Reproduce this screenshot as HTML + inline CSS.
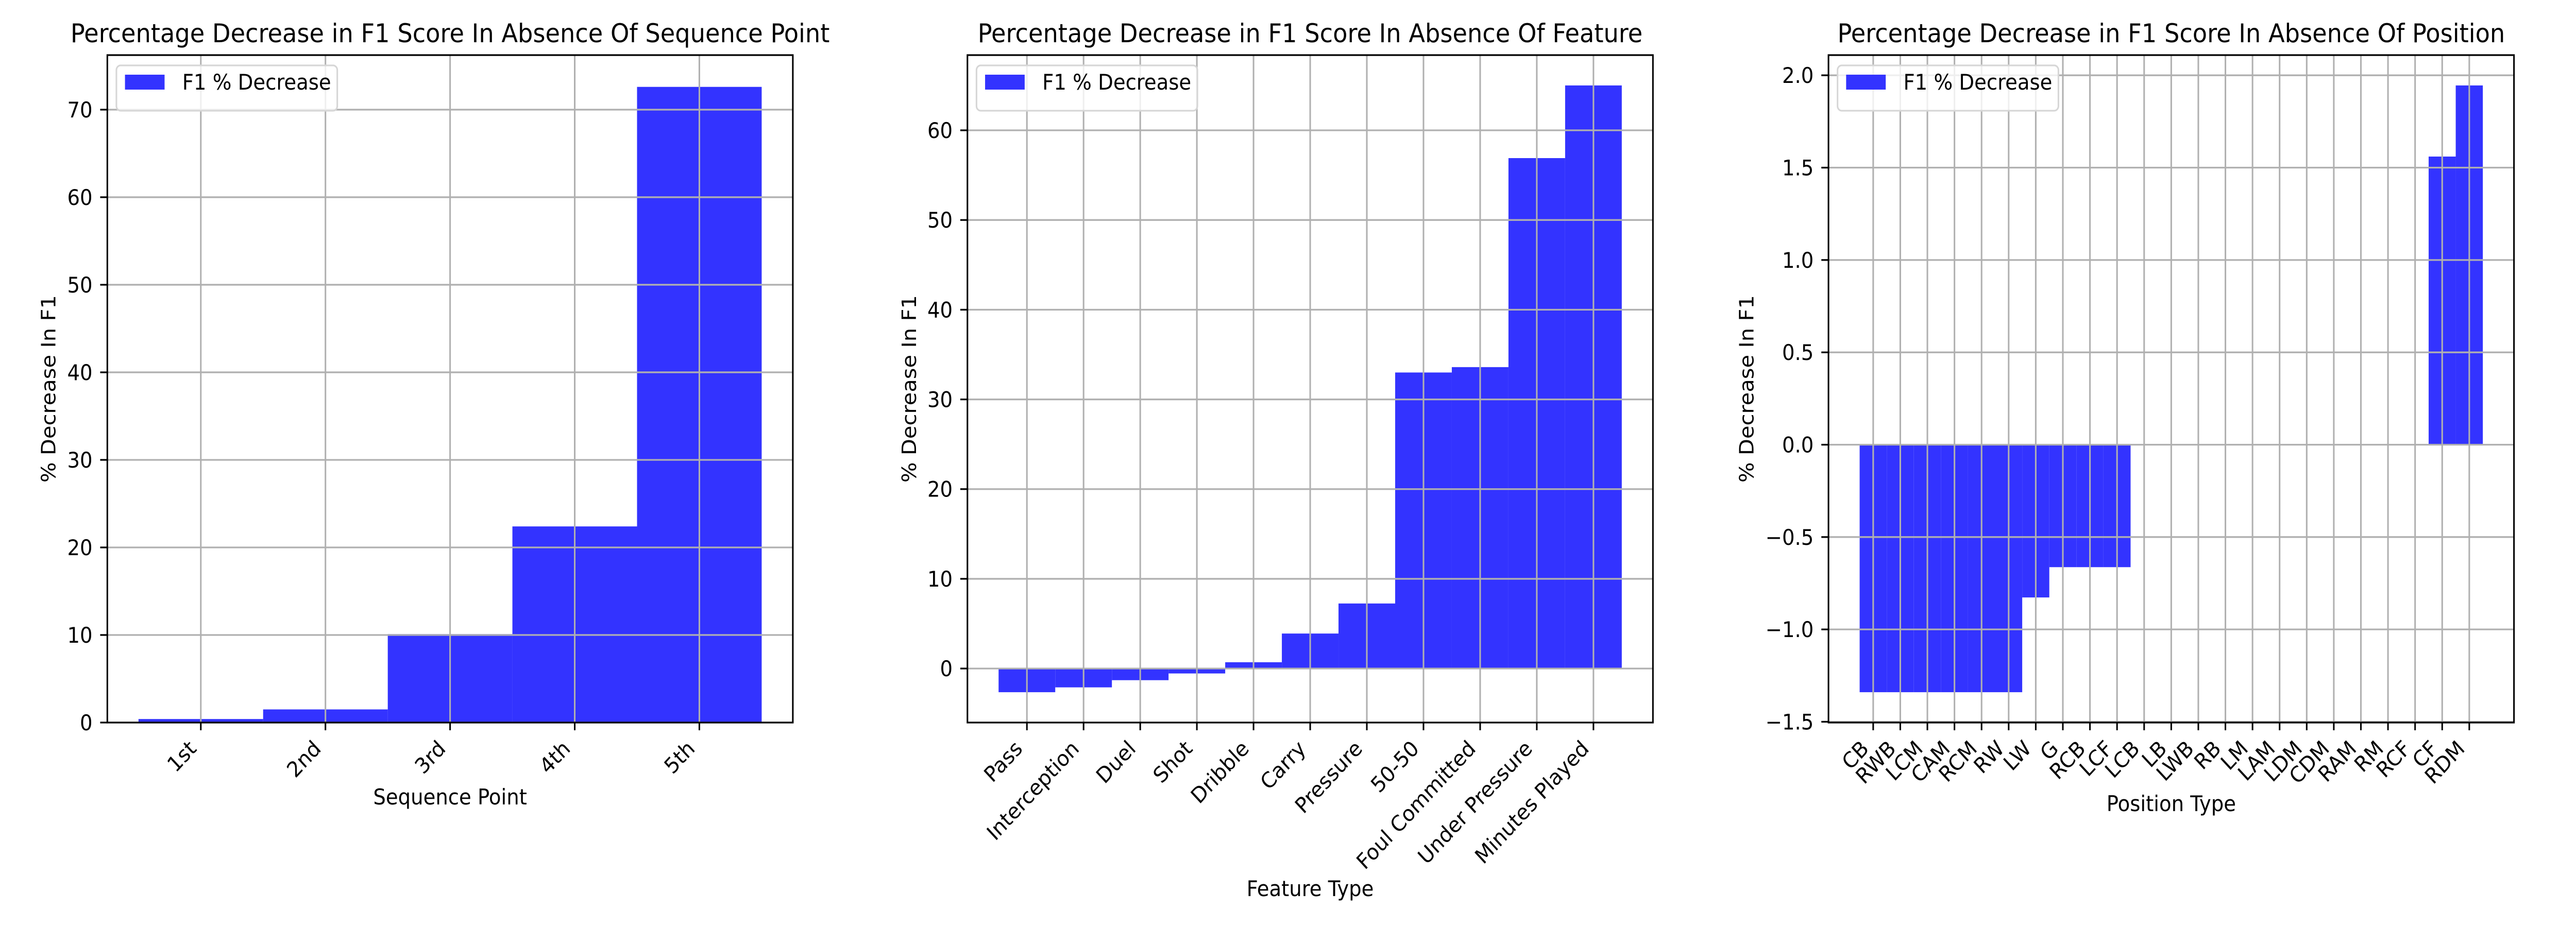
<!DOCTYPE html>
<html><head><meta charset="utf-8">
<meta name="viewport" content="width=5400, initial-scale=1">
<style>
html,body{margin:0;padding:0;background:#fff;overflow:hidden;width:100%;height:100%;}
svg{display:block;position:fixed;left:0;top:0;width:100vw;height:100vh;font-family:"DejaVu Sans","Liberation Sans",sans-serif;}
</style></head>
<body>
<svg id="fig" viewBox="0 0 5400 1800" preserveAspectRatio="none" xmlns="http://www.w3.org/2000/svg"></svg>
<script>
// ---- Panel 1 data ----
const seqCategories = ["1st","2nd","3rd","4th","5th"];
const seqValues = [0.4, 1.5, 10.1, 22.4, 72.6];
const seqTicks = [0,10,20,30,40,50,60,70];
const seqTickLabels = ["0","10","20","30","40","50","60","70"];
// ---- Panel 2 data ----
const featCategories = ["Pass","Interception","Duel","Shot","Dribble","Carry","Pressure","50-50","Foul Committed","Under Pressure","Minutes Played"];
const featValues = [-2.64, -2.1, -1.3, -0.55, 0.7, 3.9, 7.25, 33.0, 33.6, 56.9, 65.0];
const featTicks = [0,10,20,30,40,50,60];
const featTickLabels = ["0","10","20","30","40","50","60"];
// ---- Panel 3 data ----
const posCategories = ["CB","RWB","LCM","CAM","RCM","RW","LW","G","RCB","LCF","LCB","LB","LWB","RB","LM","LAM","LDM","CDM","RAM","RM","RCF","CF","RDM"];
const posValues = [-1.34,-1.34,-1.34,-1.34,-1.34,-1.34,-0.827,-0.663,-0.663,-0.663,0,0,0,0,0,0,0,0,0,0,0,1.56,1.945];
const posTicks = [-1.5,-1.0,-0.5,0.0,0.5,1.0,1.5,2.0];
const posTickLabels = ["\u22121.5","\u22121.0","\u22120.5","0.0","0.5","1.0","1.5","2.0"];

const NS = "http://www.w3.org/2000/svg";
const fig = document.getElementById("fig");
function mk(tag, attrs, parent){
  const e = document.createElementNS(NS, tag);
  for (const k in attrs) e.setAttribute(k, attrs[k]);
  (parent||fig).appendChild(e);
  return e;
}

function panel(opt){
  const L=opt.L, R=opt.L+1437, T=107, B=1403;
  const n=opt.cats.length;
  const vmin=Math.min(0,...opt.vals), vmax=Math.max(0,...opt.vals);
  const xlo=-0.5-0.05*n, xhi=n-0.5+0.05*n;
  const ylo=vmin-(vmax-vmin)*0.05*(vmin<0?1:0), yhi=vmax+(vmax-vmin)*0.05;
  const sx=v=>L+(v-xlo)/(xhi-xlo)*(R-L);
  const sy=v=>B-(v-ylo)/(yhi-ylo)*(B-T);
  const g=mk("g",{});
  
  
  opt.vals.forEach((v,i)=>{
    const y0=sy(Math.max(v,0)), y1=sy(Math.min(v,0));
    const r=mk("rect",{x:sx(i-0.5),y:y0,width:sx(i+0.5)-sx(i-0.5),height:Math.max(y1-y0,0),fill:"#3333ff"},g);
    
    
  });
  opt.cats.forEach((c,i)=>{
    const l=mk("line",{x1:sx(i),x2:sx(i),y1:T,y2:B,stroke:"#b0b0b0","stroke-width":3.3},g);
    
    
  });
  opt.ticks.forEach((t,i)=>{
    const l=mk("line",{x1:L,x2:R,y1:sy(t),y2:sy(t),stroke:"#b0b0b0","stroke-width":3.3},g);
    
    
  });
  const fr=mk("rect",{x:L,y:T,width:R-L,height:B-T,fill:"none",stroke:"#000","stroke-width":3.3},g);
  
  
  opt.ticks.forEach((t,i)=>{
    const y=sy(t);
    mk("line",{x1:L-15,x2:L,y1:y,y2:y,stroke:"#000","stroke-width":3.3},g);
    const tx=mk("text",{x:L-31,y:y+15,"text-anchor":"end","font-size":41.7,fill:"#000"},g);
    tx.textContent=opt.tickLabels[i];
    
    
  });
  opt.cats.forEach((c,i)=>{
    const x=sx(i);
    mk("line",{x1:x,x2:x,y1:B,y2:B+15,stroke:"#000","stroke-width":3.3},g);
    const ax=x-7, ay=B+31+22;
    const tx=mk("text",{x:ax,y:ay,"text-anchor":"end","font-size":41.7,fill:"#000",transform:`rotate(-45 ${ax} ${ay})`},g);
    tx.textContent=c;
    
    
  });
  const ti=mk("text",{x:(L+R)/2,y:82,"text-anchor":"middle","font-size":50,fill:"#000"},g);
  ti.textContent=opt.title;
  
  
  const xl=mk("text",{x:(L+R)/2,y:opt.xlabY,"text-anchor":"middle","font-size":41.7,fill:"#000"},g);
  xl.textContent=opt.xlabel;
  
  
  const yx=opt.ylabX+15, yy=(T+B)/2;
  const yl=mk("text",{x:yx,y:yy,"text-anchor":"middle","font-size":41.7,fill:"#000",transform:`rotate(-90 ${yx} ${yy})`},g);
  yl.textContent="% Decrease In F1";
  
  
  const lg=mk("g",{},g);
  
  
  mk("rect",{x:L+19,y:127,width:463,height:88,rx:9,fill:"#fff","fill-opacity":0.8,stroke:"#d6d6d6","stroke-width":3.3},lg);
  const sw=mk("rect",{x:L+37,y:145,width:83,height:29,fill:"#3333ff"},lg);
  
  
  const lt=mk("text",{x:L+157,y:174,"font-size":41.7,fill:"#000"},lg);
  lt.textContent="F1 % Decrease";
  
  
}

panel({name:"sequence-point-chart",L:225,cats:seqCategories,vals:seqValues,ticks:seqTicks,tickLabels:seqTickLabels,
  title:"Percentage Decrease in F1 Score In Absence Of Sequence Point",xlabel:"Sequence Point",xlabY:1562,ylabX:101});
panel({name:"feature-chart",L:2028,cats:featCategories,vals:featValues,ticks:featTicks,tickLabels:featTickLabels,
  title:"Percentage Decrease in F1 Score In Absence Of Feature",xlabel:"Feature Type",xlabY:1740,ylabX:1905});
panel({name:"position-chart",L:3833,cats:posCategories,vals:posValues,ticks:posTicks,tickLabels:posTickLabels,
  title:"Percentage Decrease in F1 Score In Absence Of Position",xlabel:"Position Type",xlabY:1575,ylabX:3661});
</script>
</body></html>
